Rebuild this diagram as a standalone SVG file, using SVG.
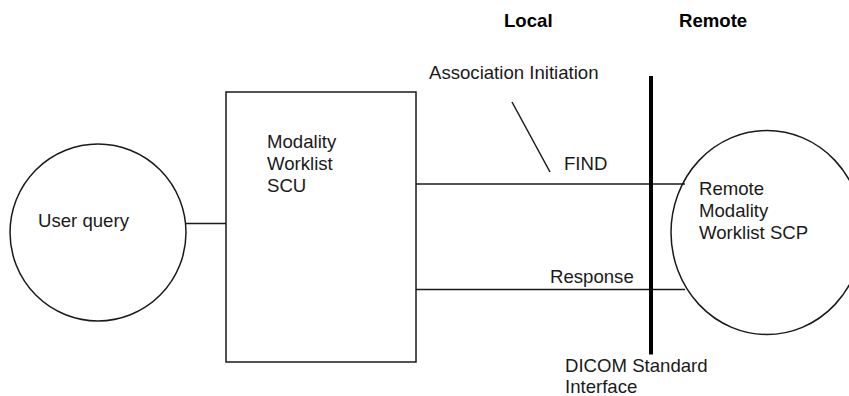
<svg xmlns="http://www.w3.org/2000/svg" width="849" height="396" viewBox="0 0 849 396">
<style>
.shape{fill:#fff;stroke:#1a1a1a;stroke-width:1.5}
.ln{stroke:#1a1a1a;stroke-width:1.5;fill:none}
.thick{stroke:#000;stroke-width:4}
text{font-family:"Liberation Sans",Arial,sans-serif;font-size:18.6px;fill:#1a1a1a}
.b{font-weight:bold;fill:#000}
</style>
<rect width="849" height="396" fill="#fff"/>
<g id="connectors">
<line class="ln" x1="186" y1="223.5" x2="226" y2="223.5"/>
<line class="ln" x1="416" y1="184" x2="685" y2="184"/>
<line class="ln" x1="416" y1="289.5" x2="685" y2="289.5"/>
<line class="ln" x1="512" y1="102" x2="550" y2="172"/>
</g>
<g id="user-query">
<ellipse class="shape" cx="98" cy="232.5" rx="88" ry="88.5"/>
<text x="38" y="226.5">User query</text>
</g>
<g id="scu">
<rect class="shape" x="226" y="92" width="190" height="270"/>
<text x="267" y="148">Modality</text>
<text x="267" y="170">Worklist</text>
<text x="267" y="192">SCU</text>
</g>
<g id="scp">
<ellipse class="shape" cx="767" cy="232.5" rx="96" ry="102" style="fill:none"/>
<text x="699" y="195">Remote</text>
<text x="699" y="217">Modality</text>
<text x="699" y="238.5">Worklist SCP</text>
</g>
<g id="interface">
<line class="thick" x1="651" y1="76" x2="651" y2="354.5"/>
<text x="565" y="371.5">DICOM Standard</text>
<text x="565" y="393">Interface</text>
</g>
<g id="labels">
<text class="b" x="504" y="27">Local</text>
<text class="b" x="679" y="27">Remote</text>
<text x="429" y="79">Association Initiation</text>
<text x="564" y="170">FIND</text>
<text x="550" y="282.5">Response</text>
</g>
</svg>
